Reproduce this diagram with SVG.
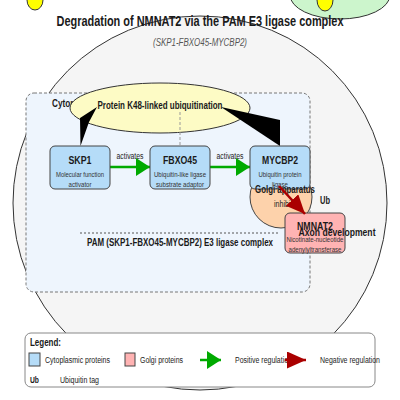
<svg xmlns="http://www.w3.org/2000/svg" width="400" height="400" viewBox="0 0 400 400">
<style>
text{font-family:"Liberation Sans Narrow","Arial Narrow","Liberation Sans",Arial,sans-serif;fill:#1a1a1a}
.b{font-weight:bold}
.mid{text-anchor:middle}
.node{stroke:#444;stroke-width:1}
.cyt{fill:#b5dcf8}
.gol{fill:#ffb3b3}
.t{font-size:11px;font-weight:bold}
.s{font-size:7.5px;fill:#333}
.lab{font-size:8.5px;fill:#222}
.pos{stroke:#00aa00;stroke-width:2.5;fill:none;marker-end:url(#ah-pos)}
.neg{stroke:#aa0000;stroke-width:2.5;fill:none;marker-end:url(#ah-neg)}
.wedge{fill:#000}
.leg{font-size:8.5px;fill:#222}
</style>
<defs>
<marker id="ah-pos" markerUnits="userSpaceOnUse" markerWidth="15" markerHeight="19" refX="14" refY="9" orient="auto" viewBox="0 0 15 19">
<path d="M0,0 L14,9 L0,18 z" fill="#00aa00"/>
</marker>
<marker id="ah-neg" markerUnits="userSpaceOnUse" markerWidth="20" markerHeight="18" refX="19" refY="8.5" orient="auto" viewBox="0 0 20 18">
<path d="M0,0 L19,8.5 L0,17 z" fill="#aa0000"/>
</marker>
</defs>
<rect width="400" height="400" fill="#ffffff"/>
<g id="top-shapes">
<ellipse cx="35" cy="0" rx="8" ry="10" fill="#ffff00" stroke="#333" stroke-width="1"/>
<ellipse cx="340" cy="-5" rx="50" ry="24" fill="#ccf5cc" stroke="#333" stroke-width="1"/>
<ellipse cx="325" cy="0" rx="8" ry="11" fill="#ffff00" stroke="#333" stroke-width="1"/>
</g>
<g id="cell">
<circle cx="200" cy="203" r="187" fill="#f5f5f5" stroke="#333" stroke-width="1"/>
</g>
<g id="cytoplasm">
<rect x="26" y="93" width="284" height="199" rx="8" fill="#eef5fd" stroke="#777" stroke-width="1" stroke-dasharray="3,2"/>
<text x="52" y="107" class="b" font-size="10" textLength="42" lengthAdjust="spacingAndGlyphs">Cytoplasm</text>
</g>
<g id="golgi">
<circle cx="281" cy="197" r="31" fill="#fdd2ab" stroke="#444" stroke-width="1"/>
</g>
<g id="title">
<text x="200" y="26" class="b mid" font-size="14" textLength="287" lengthAdjust="spacingAndGlyphs">Degradation of NMNAT2 via the PAM E3 ligase complex</text>
<text x="200" y="46" class="mid" font-size="10" font-style="italic" style="fill:#555" textLength="94" lengthAdjust="spacingAndGlyphs">(SKP1-FBXO45-MYCBP2)</text>
</g>
<g id="ubiquitination">
<ellipse cx="160" cy="108" rx="90" ry="25" fill="#fdfbc5" stroke="#333" stroke-width="1"/>
</g>
<g id="connectors">
<line x1="180" y1="112" x2="180" y2="146" stroke="#999" stroke-width="1" stroke-dasharray="3,2"/>
<polygon class="wedge" points="97,107 80,118 80.5,146 89,122"/>
<polygon class="wedge" points="221,107 280,120 280,146"/>
<line class="pos" x1="110" y1="167" x2="150" y2="167"/>
<line class="pos" x1="210" y1="167" x2="250" y2="167"/>
</g>
<g id="ubiquitination-label">
<text x="160" y="109" class="b mid" font-size="10" textLength="125" lengthAdjust="spacingAndGlyphs">Protein K48-linked ubiquitination</text>
</g>
<g id="labels">
<text x="130" y="159" class="lab mid" textLength="27" lengthAdjust="spacingAndGlyphs">activates</text>
<text x="230" y="159" class="lab mid" textLength="27" lengthAdjust="spacingAndGlyphs">activates</text>
</g>
<g id="SKP1">
<rect x="50" y="146" width="60" height="43" rx="5" class="node cyt"/>
<text x="80" y="164" class="t mid" textLength="23" lengthAdjust="spacingAndGlyphs">SKP1</text>
<text x="80" y="177" class="s mid" textLength="48" lengthAdjust="spacingAndGlyphs">Molecular function</text>
<text x="80" y="187" class="s mid" textLength="23" lengthAdjust="spacingAndGlyphs">activator</text>
</g>
<g id="FBXO45">
<rect x="150" y="146" width="60" height="43" rx="5" class="node cyt"/>
<text x="180" y="164" class="t mid" textLength="34" lengthAdjust="spacingAndGlyphs">FBXO45</text>
<text x="180" y="177" class="s mid" textLength="52" lengthAdjust="spacingAndGlyphs">Ubiquitin-like ligase</text>
<text x="180" y="187" class="s mid" textLength="48" lengthAdjust="spacingAndGlyphs">substrate adaptor</text>
</g>
<g id="MYCBP2">
<rect x="250" y="146" width="60" height="43" rx="5" class="node cyt"/>
<text x="280" y="164" class="t mid" textLength="36" lengthAdjust="spacingAndGlyphs">MYCBP2</text>
<text x="280" y="177" class="s mid" textLength="43" lengthAdjust="spacingAndGlyphs">Ubiquitin protein</text>
<text x="280" y="187" class="s mid" textLength="16" lengthAdjust="spacingAndGlyphs">ligase</text>
</g>
<g id="golgi-label">
<text x="285" y="193" class="b mid" font-size="10" textLength="60" lengthAdjust="spacingAndGlyphs">Golgi apparatus</text>
<text x="285" y="207" class="lab mid" textLength="22" lengthAdjust="spacingAndGlyphs">inhibits</text>
<text x="325" y="204" class="b mid" font-size="10" textLength="10" lengthAdjust="spacingAndGlyphs">Ub</text>
</g>
<g id="complex">
<line x1="80" y1="233" x2="280" y2="233" stroke="#555" stroke-width="1" stroke-dasharray="2,2"/>
<text x="180" y="246" class="b mid" font-size="10" textLength="186" lengthAdjust="spacingAndGlyphs">PAM (SKP1-FBXO45-MYCBP2) E3 ligase complex</text>
</g>
<g id="NMNAT2">
<rect x="285" y="213" width="60" height="40" rx="5" class="node gol"/>
<text x="315" y="230" class="t mid" textLength="36" lengthAdjust="spacingAndGlyphs">NMNAT2</text>
<text x="315" y="242" class="s mid" textLength="57" lengthAdjust="spacingAndGlyphs">Nicotinate-nucleotide</text>
<text x="315" y="252" class="s mid" textLength="53" lengthAdjust="spacingAndGlyphs">adenylyltransferase</text>
</g>
<g id="inhibition">
<line class="neg" x1="279" y1="186" x2="305" y2="214"/>
</g>
<g id="axon">
<text x="337" y="236" class="b mid" font-size="10.5" textLength="77" lengthAdjust="spacingAndGlyphs">Axon development</text>
</g>
<g id="legend">
<rect x="25" y="333" width="350" height="54" rx="6" fill="#ffffff" stroke="#888" stroke-width="1"/>
<text x="30" y="346" class="b" font-size="10" textLength="31" lengthAdjust="spacingAndGlyphs">Legend:</text>
<rect x="29" y="353" width="11" height="13" class="node cyt"/>
<text x="45" y="363" class="leg" textLength="65" lengthAdjust="spacingAndGlyphs">Cytoplasmic proteins</text>
<rect x="125" y="353" width="10" height="13" class="node gol"/>
<text x="140" y="363" class="leg" textLength="43" lengthAdjust="spacingAndGlyphs">Golgi proteins</text>
<text x="235" y="363" class="leg" textLength="57" lengthAdjust="spacingAndGlyphs">Positive regulation</text>
<line class="pos" x1="200" y1="360" x2="221" y2="360"/>
<line class="neg" x1="285" y1="360" x2="306" y2="360"/>
<text x="320" y="363" class="leg" textLength="60" lengthAdjust="spacingAndGlyphs">Negative regulation</text>
<text x="30" y="383" class="b" font-size="9" textLength="9" lengthAdjust="spacingAndGlyphs">Ub</text>
<text x="60" y="383" class="leg" textLength="39" lengthAdjust="spacingAndGlyphs">Ubiquitin tag</text>
</g>
</svg>
